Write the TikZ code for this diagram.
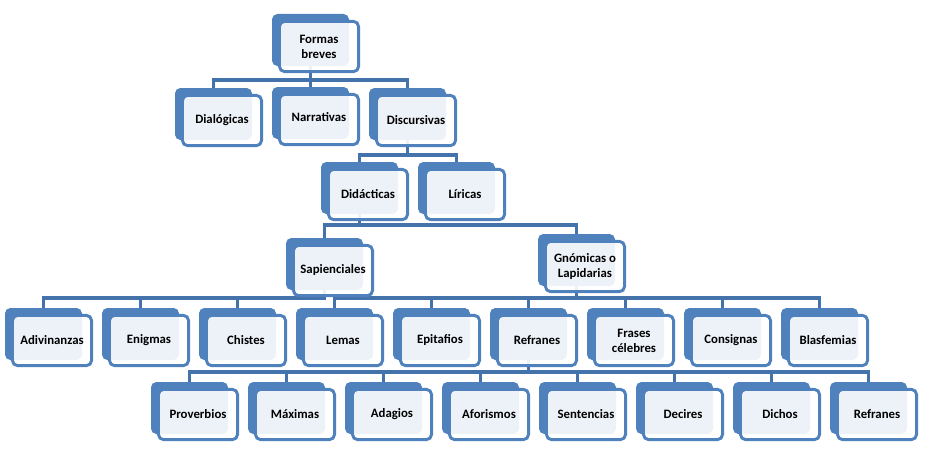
\documentclass[tikz,border=0pt]{standalone}
\usepackage{fontspec}
\setmainfont{Carlito}
\usetikzlibrary{backgrounds}
\definecolor{cblue}{HTML}{4F81BD}
\definecolor{clink}{HTML}{4472AA}
\tikzset{
  every picture/.style={font=\bfseries\fontsize{9.6}{11.2}\selectfont},
  back/.style={fill=cblue, rounded corners=4pt, inner sep=0pt, minimum width=57.75pt, minimum height=39pt},
  front/.style={draw=cblue, fill=white, fill opacity=0.9, text opacity=1, line width=2.2pt, rounded corners=4pt, inner sep=0pt, minimum width=59.4pt, minimum height=37.8pt, align=center},
  link/.style={draw=clink, line width=2.6pt},
}
% one box: back plate + front card, placed by the plate's top-left corner
\newcommand{\card}[4]{%
  \node[back] (#1-b) at ({#2+38.5},{#3+26}) {};
  \node[front] (#1) at ({#2+47},{#3+32.5}) {#4};}

\begin{document}
\begin{tikzpicture}[x=0.75pt, y=-0.75pt]
  \useasboundingbox (0,0) rectangle (930,460);
  % levels
  \card{fb}{272}{14}{Formas\\breves}
  \card{dial}{175}{88}{Dialógicas}
  \card{narr}{272}{87}{\raisebox{3.75pt}{Narrativas}}
  \card{disc}{369}{88}{Discursivas}
  \card{dida}{321}{162}{Didácticas}
  \card{lir}{418}{162}{Líricas}
  \card{sap}{286}{238}{Sapienciales}
  \card{gno}{538}{234}{Gnómicas o\\Lapidarias}
  \foreach \t [count=\i] in {Adivinanzas,Enigmas,Chistes,Lemas,Epitafios,Refranes,{Frases\\célebres},Consignas,Blasfemias}
    {\card{g\i}{5+97*(\i-1)}{308}{\t}}
  \foreach \t [count=\i] in {Proverbios,Máximas,Adagios,Aforismos,Sentencias,Decires,Dichos,Refranes}
    {\card{h\i}{151+97*(\i-1)}{382}{\t}}
  % bus lines
  \coordinate (bus1) at (0,80);
  \coordinate (bus2) at (0,155);
  \coordinate (bus3) at (0,225);
  \coordinate (bus4) at (0,298);
  \coordinate (bus5) at (0,372);
  \begin{scope}[on background layer]
    \foreach \c in {dial,narr,disc} \draw[link] (fb-b.center) |- (\c-b.north |- bus1) -- (\c-b.north);
    \foreach \c in {dida,lir} \draw[link] (disc-b.center) |- (\c-b.north |- bus2) -- (\c-b.north);
    \foreach \c in {sap,gno} \draw[link] (dida-b.center) |- (\c-b.north |- bus3) -- (\c-b.north);
    \foreach \i in {1,2,3} \draw[link] (sap-b.center) |- (g\i-b.north |- bus4) -- (g\i-b.north);
    \foreach \i in {4,...,9} \draw[link] (gno-b.center) |- (g\i-b.north |- bus4) -- (g\i-b.north);
    \foreach \i in {1,...,8} \draw[link] (g6-b.center) |- (h\i-b.north |- bus5) -- (h\i-b.north);
  \end{scope}
\end{tikzpicture}
\end{document}
